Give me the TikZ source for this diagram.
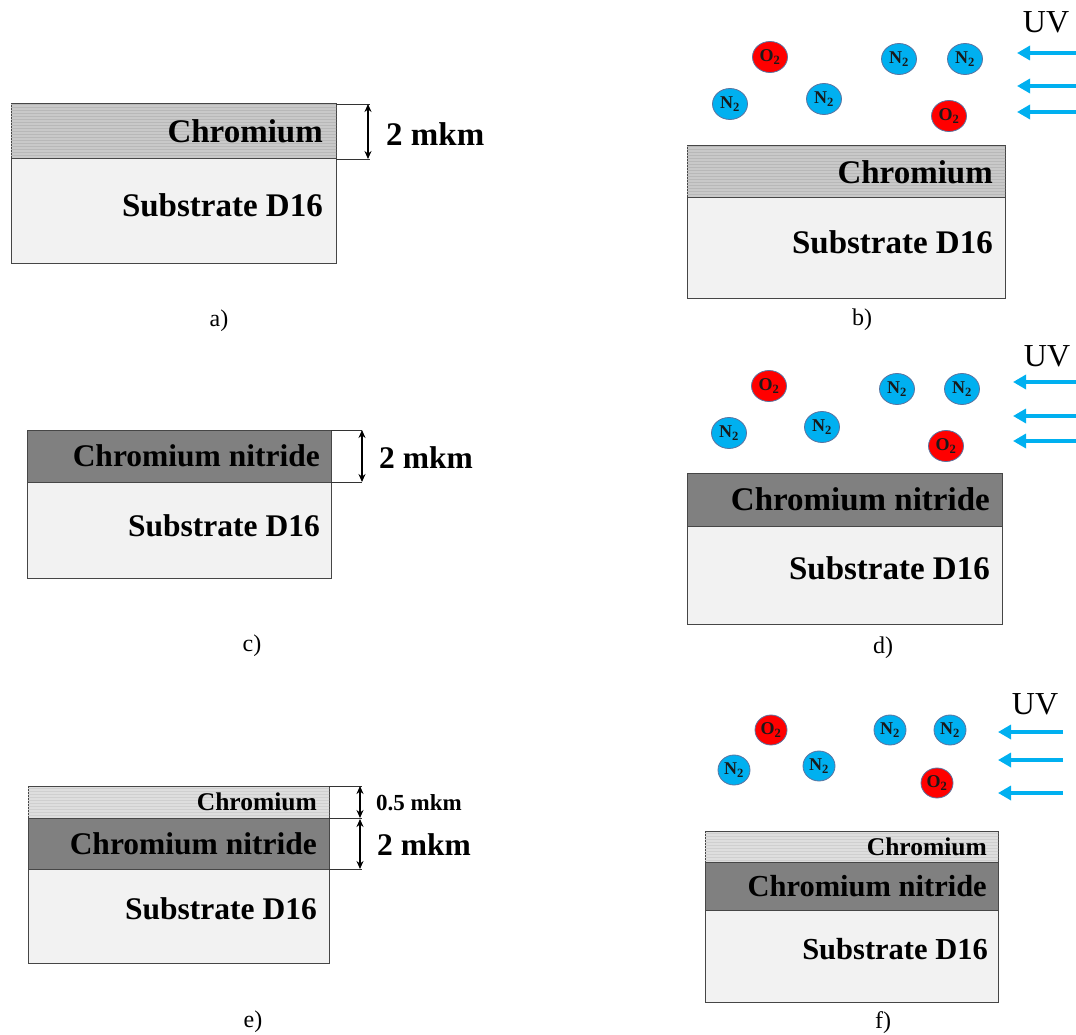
\documentclass[tikz,border=0pt]{standalone}
\usepackage{fontspec}
\setmainfont{Liberation Serif}
\usepackage{tikz}
\usetikzlibrary{positioning,arrows.meta,patterns,shapes.geometric,calc}
\definecolor{uvblue}{RGB}{0,176,240}
\definecolor{oxred}{RGB}{255,0,0}
\definecolor{edgegray}{RGB}{70,70,70}
\definecolor{molline}{RGB}{90,115,160}

\begin{document}
\begin{tikzpicture}[x=1pt,y=-1pt,
  layer/.style={draw=edgegray,line width=1pt,inner sep=0pt,outer sep=0pt},
  crbox/.style={layer,fill=black!21,postaction={pattern=horizontal lines,pattern color=black!28}},
  crthin/.style={layer,fill=black!13,postaction={pattern=horizontal lines,pattern color=black!19}},
  crnbox/.style={layer,fill=black!50},
  subbox/.style={layer,fill=black!5},
  lbl/.style={inner sep=0pt,anchor=east,font=\fontsize{#1pt}{#1pt}\selectfont\bfseries},
  dimtxt/.style={inner sep=0pt,anchor=west,font=\fontsize{#1pt}{#1pt}\selectfont\bfseries},
  caption/.style={inner sep=0pt,font=\fontsize{24pt}{24pt}\selectfont},
  uvtxt/.style={inner sep=0pt,font=\fontsize{32pt}{32pt}\selectfont},
  extline/.style={line width=0.8pt,black!80},
  dimarr/.style={{Stealth[length=8pt,width=7pt]}-{Stealth[length=8pt,width=7pt]},line width=1.4pt},
  uvarr/.style={uvblue,line width=4pt,-{Triangle[length=13pt,width=14pt]}},
  mol/.style={ellipse,draw=molline,line width=0.8pt,minimum width=35pt,minimum height=31pt,inner sep=0pt,
    font=\fontsize{18pt}{18pt}\selectfont\bfseries,text=black!90},
  n2/.style={mol,fill=uvblue},
  o2/.style={mol,fill=oxred},
  molf/.style={minimum width=32pt,minimum height=30pt},
]
  \useasboundingbox (0,0) rectangle (1076,1035);

  % a) chromium on substrate
  \node[crbox,anchor=north west,minimum width=325pt,minimum height=55pt] (acr) at (11,104) {};
  \node[subbox,below=0pt of acr,minimum width=325pt,minimum height=104pt] (asub) {};
  \node[lbl=33] (acrt) at ([xshift=-13pt]acr.east) {Chromium};
  \node[lbl=33] (asubt) at ([xshift=-13pt,yshift=6pt]asub.east) {Substrate D16};
  \coordinate (ae1) at (370,104);
  \coordinate (ae2) at (370,159);
  \draw[extline] (acr.north east) -- (ae1);
  \draw[extline] (acr.south east) -- (ae2);
  \draw[dimarr] ([xshift=-2pt]ae1) -- ([xshift=-2pt]ae2);
  \node[dimtxt=33] (adim) at (386,134) {2 mkm};
  \node[caption] (acap) at (219,321) {a)};

  % b) chromium under UV
  \node[crbox,anchor=north west,minimum width=318pt,minimum height=52pt] (bcr) at (687,146) {};
  \node[subbox,below=0pt of bcr,minimum width=318pt,minimum height=100pt] (bsub) {};
  \node[lbl=33] (bcrt) at ([xshift=-12pt]bcr.east) {Chromium};
  \node[lbl=33] (bsubt) at ([xshift=-12pt,yshift=6pt]bsub.east) {Substrate D16};
  \node[caption] (bcap) at (862,320) {b)};
  \node[o2] (bo1) at (770,57) {O\textsubscript{2}};
  \node[n2] (bn1) at (730,104) {N\textsubscript{2}};
  \node[n2] (bn2) at (824,99) {N\textsubscript{2}};
  \node[n2] (bn3) at (899,59) {N\textsubscript{2}};
  \node[n2] (bn4) at (965,59) {N\textsubscript{2}};
  \node[o2] (bo2) at (949,116) {O\textsubscript{2}};
  \node[uvtxt] (buv) at (1046,22) {UV};
  \foreach \y [count=\i] in {53,86,112} {
    \coordinate (bt\i) at (1076,\y);
    \coordinate (bh\i) at (1017,\y);
    \draw[uvarr] (bt\i) -- (bh\i);
  }

  % c) chromium nitride on substrate
  \node[crnbox,anchor=north west,minimum width=304pt,minimum height=52pt] (ccrn) at (27,430) {};
  \node[subbox,below=0pt of ccrn,minimum width=304pt,minimum height=96pt] (csub) {};
  \node[lbl=31.5] (ccrnt) at ([xshift=-11pt]ccrn.east) {Chromium nitride};
  \node[lbl=31.5] (csubt) at ([xshift=-11pt,yshift=4pt]csub.east) {Substrate D16};
  \coordinate (ce1) at (362,430);
  \coordinate (ce2) at (362,482);
  \draw[extline] (ccrn.north east) -- (ce1);
  \draw[extline] (ccrn.south east) -- (ce2);
  \draw[dimarr] (ce1) -- (ce2);
  \node[dimtxt=31.5] (cdim) at (379,458) {2 mkm};
  \node[caption] (ccap) at (252,646) {c)};

  % d) chromium nitride under UV
  \node[crnbox,anchor=north west,minimum width=315pt,minimum height=53pt] (dcrn) at (687,473) {};
  \node[subbox,below=0pt of dcrn,minimum width=315pt,minimum height=98pt] (dsub) {};
  \node[lbl=33] (dcrnt) at ([xshift=-12pt]dcrn.east) {Chromium nitride};
  \node[lbl=33] (dsubt) at ([xshift=-12pt,yshift=7pt]dsub.east) {Substrate D16};
  \node[caption] (dcap) at (883,648) {d)};
  \node[o2] (do1) at (769,386) {O\textsubscript{2}};
  \node[n2] (dn1) at (729,433) {N\textsubscript{2}};
  \node[n2] (dn2) at (822,427) {N\textsubscript{2}};
  \node[n2] (dn3) at (897,389) {N\textsubscript{2}};
  \node[n2] (dn4) at (962,389) {N\textsubscript{2}};
  \node[o2] (do2) at (946,446) {O\textsubscript{2}};
  \node[uvtxt] (duv) at (1047,356) {UV};
  \foreach \y [count=\i] in {382,416,441} {
    \coordinate (dt\i) at (1076,\y);
    \coordinate (dh\i) at (1013,\y);
    \draw[uvarr] (dt\i) -- (dh\i);
  }

  % e) chromium + chromium nitride on substrate
  \node[crthin,anchor=north west,minimum width=301pt,minimum height=32pt] (ecr) at (28,786) {};
  \node[crnbox,below=0pt of ecr,minimum width=301pt,minimum height=51pt] (ecrn) {};
  \node[subbox,below=0pt of ecrn,minimum width=301pt,minimum height=94pt] (esub) {};
  \node[lbl=25.5] (ecrt) at ([xshift=-12pt]ecr.east) {Chromium};
  \node[lbl=31.5] (ecrnt) at ([xshift=-12pt]ecrn.east) {Chromium nitride};
  \node[lbl=31.5] (esubt) at ([xshift=-12pt,yshift=7pt]esub.east) {Substrate D16};
  \coordinate (ee1) at (362,786);
  \coordinate (ee2) at (362,818);
  \coordinate (ee3) at (362,869);
  \draw[extline] (ecr.north east) -- (ee1);
  \draw[extline] (ecr.south east) -- (ee2);
  \draw[extline] (ecrn.south east) -- (ee3);
  \draw[dimarr] ([xshift=-2pt]ee1) -- ([xshift=-2pt]ee2);
  \draw[dimarr] ([xshift=-2pt,yshift=-1pt]ee2) -- ([xshift=-2pt]ee3);
  \node[dimtxt=23] (edim1) at (376,803) {0.5 mkm};
  \node[dimtxt=31.5] (edim2) at (377,845) {2 mkm};
  \node[caption] (ecap) at (253,1022) {e)};

  % f) chromium + chromium nitride under UV
  \node[crthin,anchor=north west,minimum width=293pt,minimum height=31pt] (fcr) at (705,831) {};
  \node[crnbox,below=0pt of fcr,minimum width=293pt,minimum height=48pt] (fcrn) {};
  \node[subbox,below=0pt of fcrn,minimum width=293pt,minimum height=92pt] (fsub) {};
  \node[lbl=25.5] (fcrt) at ([xshift=-11pt]fcr.east) {Chromium};
  \node[lbl=30.5] (fcrnt) at ([xshift=-11pt]fcrn.east) {Chromium nitride};
  \node[lbl=30.5] (fsubt) at ([xshift=-10pt,yshift=7pt]fsub.east) {Substrate D16};
  \node[caption] (fcap) at (883,1023) {f)};
  \node[o2,molf] (fo1) at (771,730) {O\textsubscript{2}};
  \node[n2,molf] (fn1) at (734,770) {N\textsubscript{2}};
  \node[n2,molf] (fn2) at (819,766) {N\textsubscript{2}};
  \node[n2,molf] (fn3) at (890,730) {N\textsubscript{2}};
  \node[n2,molf] (fn4) at (950,730) {N\textsubscript{2}};
  \node[o2,molf] (fo2) at (937,783) {O\textsubscript{2}};
  \node[uvtxt] (fuv) at (1035,704) {UV};
  \foreach \y [count=\i] in {732,760,793} {
    \coordinate (ft\i) at (1063,\y);
    \coordinate (fh\i) at (998,\y);
    \draw[uvarr] (ft\i) -- (fh\i);
  }
\end{tikzpicture}
\end{document}
